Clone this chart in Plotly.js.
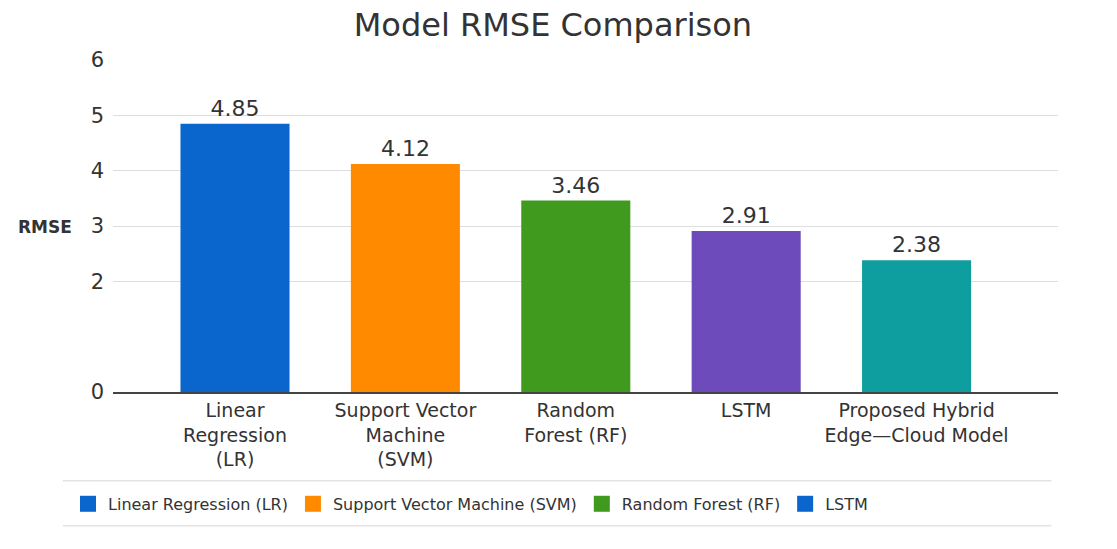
<!DOCTYPE html>
<html>
<head>
<meta charset="utf-8">
<script src="https://cdn.plot.ly/plotly-3.0.1.min.js"></script>
<style>html,body{margin:0;padding:0;background:#fff;}#chart{width:1117px;height:549px;}</style>
</head>
<body>
<div id="chart"></div>
<script>
const models = ["Linear Regression (LR)", "Support Vector Machine (SVM)", "Random Forest (RF)", "LSTM", "Proposed Hybrid Edge—Cloud Model"];
const tickLabels = ["Linear<br>Regression<br>(LR)", "Support Vector<br>Machine<br>(SVM)", "Random<br>Forest (RF)", "LSTM", "Proposed Hybrid<br>Edge—Cloud Model"];
const rmse = [4.85, 4.12, 3.46, 2.91, 2.38];
const barColors = ["#0a66cc", "#ff8a00", "#3f9a1e", "#6e4bbb", "#0f9ea0"];
const legendNames = ["Linear Regression (LR)", "Support Vector Machine (SVM)", "Random Forest (RF)", "LSTM"];
const legendColors = ["#0a66cc", "#ff8a00", "#3f9a1e", "#0a66cc"];
const yTicks = [0, 2, 3, 4, 5, 6];

const FONT = "DejaVu Sans, Verdana, sans-serif";
const TXT = "#333333";

const traces = [{
  type: "bar",
  x: tickLabels,
  y: rmse,
  width: 0.64,
  marker: {color: barColors},
  text: rmse.map(v => v.toFixed(2)),
  textposition: "outside",
  cliponaxis: false,
  textfont: {family: FONT, size: 22, color: TXT},
  showlegend: false,
  hovertext: models
}];
legendNames.forEach((n, i) => {
  traces.push({
    type: "scatter", mode: "markers",
    x: [null], y: [null],
    name: n,
    marker: {symbol: "square", size: 16, color: legendColors[i]},
    showlegend: true
  });
});

const layout = {
  width: 1117, height: 549,
  margin: {l: 113, r: 59, t: 60, b: 157},
  paper_bgcolor: "#ffffff", plot_bgcolor: "#ffffff",
  font: {family: FONT, color: TXT},
  title: {text: "Model RMSE Comparison", font: {family: FONT, size: 32, color: TXT}, x: 0.495, xanchor: "center", y: 0.955, yanchor: "middle"},
  xaxis: {
    type: "category",
    range: [-0.716, 4.83],
    showgrid: false,
    showline: true, linecolor: "#444444", linewidth: 2,
    ticks: "", tickfont: {family: FONT, size: 19, color: TXT},
    fixedrange: true
  },
  yaxis: {
    range: [0, 6],
    tickvals: yTicks,
    ticktext: yTicks.map(String),
    showgrid: true, gridcolor: "#dedede", gridwidth: 1,
    zeroline: false, showline: false,
    ticks: "", tickfont: {family: FONT, size: 21, color: TXT},
    ticklabelstandoff: 8,
    fixedrange: true
  },
  annotations: [{
    text: "<b>RMSE</b>", xref: "paper", yref: "paper",
    x: -0.072, y: 0.497, xanchor: "center", yanchor: "middle",
    showarrow: false, font: {family: FONT, size: 17, color: TXT}
  }],
  shapes: [
    {type: "line", xref: "paper", yref: "paper", x0: -0.053, x1: 0.993, y0: -0.267, y1: -0.267, line: {color: "#e3e3e3", width: 1.5}},
    {type: "line", xref: "paper", yref: "paper", x0: -0.053, x1: 0.993, y0: -0.403, y1: -0.403, line: {color: "#e3e3e3", width: 1.5}}
  ],
  legend: {
    orientation: "h",
    x: -0.0476, xanchor: "left",
    y: -0.337, yanchor: "middle",
    font: {family: FONT, size: 16, color: TXT},
    itemwidth: 30,
    bgcolor: "rgba(0,0,0,0)"
  }
};

Plotly.newPlot("chart", traces, layout, {displayModeBar: false, staticPlot: true});
</script>
</body>
</html>
